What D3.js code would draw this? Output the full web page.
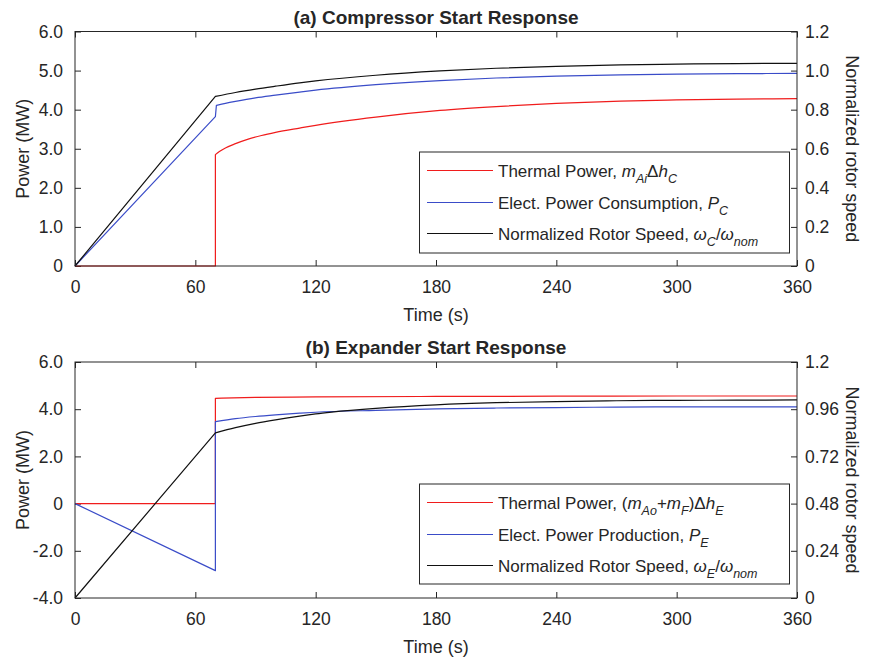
<!DOCTYPE html>
<html><head><meta charset="utf-8">
<script src="https://cdn.jsdelivr.net/npm/d3@7"></script>
<style>
body{margin:0;background:#fff}
text{font-family:"Liberation Sans",Arial,Helvetica,sans-serif;fill:#262626}
</style>
</head><body>
<svg id="c" width="873" height="663"></svg>
<script>
// ---------- data ----------
const timeTicks = [0, 60, 120, 180, 240, 300, 360];
const powerTicksA = [0, 1, 2, 3, 4, 5, 6];
const powerLabelsA = ["0", "1.0", "2.0", "3.0", "4.0", "5.0", "6.0"];
const speedTicksA = [0, 0.2, 0.4, 0.6, 0.8, 1.0, 1.2];
const speedLabelsA = ["0", "0.2", "0.4", "0.6", "0.8", "1.0", "1.2"];
const powerTicksB = [-4, -2, 0, 2, 4, 6];
const powerLabelsB = ["-4.0", "-2.0", "0", "2.0", "4.0", "6.0"];
const speedTicksB = [0, 0.24, 0.48, 0.72, 0.96, 1.2];
const speedLabelsB = ["0", "0.24", "0.48", "0.72", "0.96", "1.2"];

// (a) compressor
const compThermalT = [0, 70, 70, 72, 75, 80, 86, 93, 100, 112, 120, 150, 182, 210, 240, 272, 300, 330, 360];
const compThermalV = [0, 0, 2.85, 2.93, 3.02, 3.13, 3.24, 3.34, 3.42, 3.53, 3.60, 3.81, 3.98, 4.08, 4.16, 4.22, 4.25, 4.27, 4.28];
const compElecT = [0, 70, 70.5, 75, 80, 90, 100, 112, 120, 150, 182, 210, 240, 272, 300, 330, 360];
const compElecV = [0, 3.82, 4.11, 4.16, 4.21, 4.30, 4.37, 4.45, 4.50, 4.64, 4.745, 4.81, 4.86, 4.89, 4.91, 4.92, 4.93];
const compSpeedT = [0, 70, 80, 90, 100, 112, 120, 150, 182, 210, 240, 272, 300, 330, 360];
const compSpeedV = [0, 0.868, 0.888, 0.905, 0.920, 0.937, 0.947, 0.976, 0.998, 1.012, 1.022, 1.029, 1.033, 1.036, 1.037];

// (b) expander
const expThermalT = [0, 70, 70, 90, 120, 180, 240, 300, 360];
const expThermalV = [0, 0, 4.46, 4.50, 4.52, 4.54, 4.55, 4.56, 4.56];
const expElecT = [0, 70, 70, 80, 90, 100, 112, 120, 150, 180, 210, 240, 270, 300, 360];
const expElecV = [0, -2.84, 3.47, 3.60, 3.69, 3.76, 3.83, 3.87, 3.95, 4.01, 4.05, 4.07, 4.09, 4.10, 4.10];
const expSpeedT = [0, 70, 80, 90, 100, 112, 120, 128, 150, 180, 210, 240, 270, 300, 330, 360];
const expSpeedV = [0, 0.840, 0.866, 0.888, 0.906, 0.925, 0.936, 0.945, 0.964, 0.982, 0.993, 0.999, 1.003, 1.005, 1.006, 1.007];

const legendA = [
  [["Thermal Power, ","n"],["m","i"],["Ai","s"],["\u0394","n"],["h","i"],["C","s"]],
  [["Elect. Power Consumption, ","n"],["P","i"],["C","s"]],
  [["Normalized Rotor Speed, ","n"],["\u03c9","i"],["C","s"],["/","n"],["\u03c9","i"],["nom","s"]]
];
const legendB = [
  [["Thermal Power, (","n"],["m","i"],["Ao","s"],["+","n"],["m","i"],["F","s"],[")","n"],["\u0394","n"],["h","i"],["E","s"]],
  [["Elect. Power Production, ","n"],["P","i"],["E","s"]],
  [["Normalized Rotor Speed, ","n"],["\u03c9","i"],["E","s"],["/","n"],["\u03c9","i"],["nom","s"]]
];

const RED = "#f01c1c", BLUE = "#3a4cc8", BLACK = "#111";

// ---------- drawing ----------
const svg = d3.select("#c");
const X0 = 75, X1 = 797;
const x = d3.scaleLinear().domain([0, 360]).range([X0, X1]);

function drawPanel(p) {
  const g = svg.append("g");
  const yL = d3.scaleLinear().domain(p.pDomain).range([p.bottom, p.top]);
  const yR = d3.scaleLinear().domain(p.sDomain).range([p.bottom, p.top]);

  const fs = "17.5px";
  const ax = [
    g.append("g").attr("transform", `translate(0,${p.bottom})`)
      .call(d3.axisBottom(x).tickValues(timeTicks).tickSizeInner(-6).tickSizeOuter(0).tickPadding(15)),
    g.append("g").attr("transform", `translate(0,${p.top})`)
      .call(d3.axisTop(x).tickValues(timeTicks).tickSizeInner(-6).tickSizeOuter(0).tickFormat("")),
    g.append("g").attr("transform", `translate(${X0},0)`)
      .call(d3.axisLeft(yL).tickValues(p.pTicks).tickSizeInner(-6).tickSizeOuter(0).tickPadding(12)
        .tickFormat((d, i) => p.pLabels[i])),
    g.append("g").attr("transform", `translate(${X1},0)`)
      .call(d3.axisRight(yR).tickValues(p.sTicks).tickSizeInner(-6).tickSizeOuter(0).tickPadding(8)
        .tickFormat((d, i) => p.sLabels[i]))
  ];
  ax.forEach(a => {
    a.select(".domain").remove();
    a.selectAll("line").attr("stroke", "#262626");
    a.selectAll("text").style("font-size", fs).attr("fill", "#262626");
  });

  function series(T, V, scale, color) {
    const pts = T.map((t, i) => [t, V[i]]);
    let idx = 0;
    T.forEach((t, i) => { if (t <= 70.5) idx = i; });
    const a = pts.slice(0, idx + 1), b = pts.slice(idx);
    const pathA = d3.line().x(d => x(d[0])).y(d => scale(d[1]))(a);
    const pathB = d3.line().x(d => x(d[0])).y(d => scale(d[1])).curve(d3.curveMonotoneX)(b);
    g.append("path").attr("d", pathA + pathB.replace(/^M/, "L"))
      .attr("fill", "none").attr("stroke", color).attr("stroke-width", 1.2)
      .attr("stroke-linejoin", "round");
  }
  series(p.thermal[0], p.thermal[1], yL, RED);
  series(p.elec[0], p.elec[1], yL, BLUE);
  series(p.speed[0], p.speed[1], yR, BLACK);

  g.append("rect").attr("x", X0).attr("y", p.top).attr("width", X1 - X0).attr("height", p.bottom - p.top)
    .attr("fill", "none").attr("stroke", "#262626").attr("stroke-width", 1);

  g.append("text").attr("x", 436).attr("y", p.top - 8).attr("text-anchor", "middle")
    .style("font-size", "19px").style("font-weight", "bold").attr("fill", "#000").text(p.title);
  g.append("text").attr("x", 436).attr("y", p.bottom + 55).attr("text-anchor", "middle")
    .style("font-size", "18px").text("Time (s)");
  const cy = (p.top + p.bottom) / 2;
  g.append("text").attr("transform", `translate(29,${cy}) rotate(-90)`).attr("text-anchor", "middle")
    .style("font-size", "18px").text("Power (MW)");
  g.append("text").attr("transform", `translate(846,${cy}) rotate(90)`).attr("text-anchor", "middle")
    .style("font-size", "18px").text("Normalized rotor speed");

  const L = p.legend;
  const lg = g.append("g");
  lg.append("rect").attr("x", 419.5).attr("y", L.top).attr("width", 370).attr("height", L.h)
    .attr("fill", "#fff").attr("stroke", "#262626").attr("stroke-width", 1);
  const colors = [RED, BLUE, BLACK];
  p.legendItems.forEach((parts, i) => {
    const ry = Math.round(L.top + 18 + i * 31.5) + 0.5;
    lg.append("line").attr("x1", 427).attr("x2", 493).attr("y1", ry).attr("y2", ry)
      .attr("stroke", colors[i]).attr("stroke-width", 1.2);
    const t = lg.append("text").attr("x", 498).attr("y", ry + 6).style("font-size", "17px");
    let sub = false;
    parts.forEach(([s, k]) => {
      const ts = t.append("tspan").text(s);
      if (k === "s") {
        ts.style("font-size", "12.5px").style("font-style", "italic");
        if (!sub) ts.attr("dy", 6);
        sub = true;
      } else {
        if (k === "i") ts.style("font-style", "italic");
        if (sub) ts.attr("dy", -6);
        sub = false;
      }
    });
  });
}

drawPanel({
  top: 31.5, bottom: 266, pDomain: [0, 6], sDomain: [0, 1.2],
  pTicks: powerTicksA, pLabels: powerLabelsA, sTicks: speedTicksA, sLabels: speedLabelsA,
  thermal: [compThermalT, compThermalV], elec: [compElecT, compElecV], speed: [compSpeedT, compSpeedV],
  title: "(a) Compressor Start Response", legend: {top: 152, h: 101}, legendItems: legendA
});
drawPanel({
  top: 362, bottom: 598, pDomain: [-4, 6], sDomain: [0, 1.2],
  pTicks: powerTicksB, pLabels: powerLabelsB, sTicks: speedTicksB, sLabels: speedLabelsB,
  thermal: [expThermalT, expThermalV], elec: [expElecT, expElecV], speed: [expSpeedT, expSpeedV],
  title: "(b) Expander Start Response", legend: {top: 484, h: 100}, legendItems: legendB
});
</script>
</body></html>
